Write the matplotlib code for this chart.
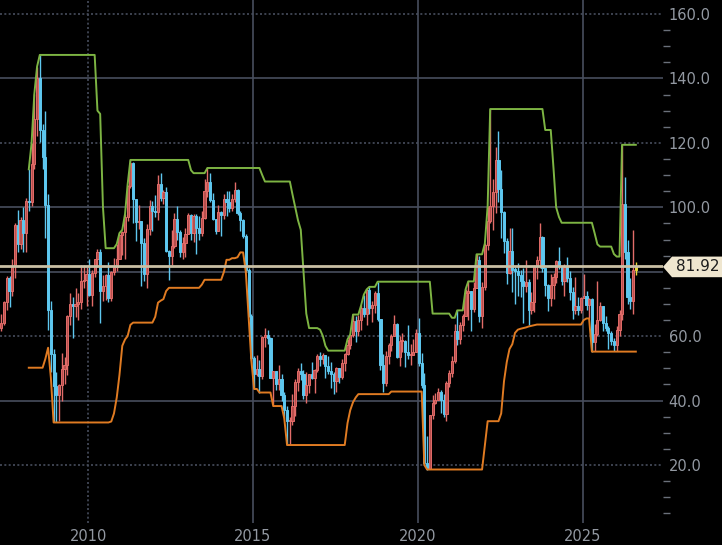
import numpy as np
import pandas as pd
import matplotlib
matplotlib.use("Agg")
import matplotlib.pyplot as plt
import matplotlib.dates as mdates
from matplotlib.patches import Polygon
from matplotlib.ticker import MultipleLocator, FuncFormatter
import matplotlib.transforms as mtransforms

# monthly candles, May 2007 .. Aug 2026
first_month = "2007-05-01"
first_open = 62.5
closes = [
    64.0, 70.7, 78.2, 74.0, 81.7, 94.5, 88.7, 96.0,                          # 2007 May-Dec
    92.0, 101.8, 101.6, 113.5, 127.4, 140.0, 124.1, 115.5, 100.6, 68.1, 54.4, 44.6,
    41.7, 44.8, 49.7, 51.1, 66.3, 69.9, 69.5, 70.0, 70.6, 77.0, 77.3, 79.4,
    72.9, 79.7, 83.8, 86.2, 74.0, 75.6, 78.9, 71.9, 80.0, 81.4, 84.1, 91.4,
    92.2, 97.0, 106.7, 113.9, 102.7, 95.4, 95.7, 88.8, 79.2, 93.2, 100.4, 98.8,
    98.5, 107.1, 103.0, 104.9, 86.5, 85.0, 88.1, 96.5, 92.2, 86.2, 88.9, 91.8,
    97.5, 92.0, 97.2, 93.5, 92.0, 96.6, 105.0, 107.7, 102.3, 96.4, 92.7, 98.4,
    97.5, 102.6, 101.6, 99.7, 102.7, 105.4, 98.2, 96.0, 91.2, 80.5, 66.2, 53.3,
    48.2, 49.8, 47.6, 59.6, 60.3, 59.5, 47.1, 49.2, 45.1, 46.6, 41.7, 37.0,
    33.6, 33.8, 38.3, 45.9, 49.1, 48.3, 41.6, 44.7, 48.2, 46.9, 49.4, 53.7,
    52.8, 54.0, 50.6, 49.3, 48.3, 46.0, 50.2, 47.2, 51.7, 54.4, 57.4, 60.4,
    64.7, 61.6, 64.9, 68.6, 67.0, 74.2, 68.8, 69.8, 73.3, 65.3, 50.9, 45.4,
    53.8, 57.2, 60.1, 63.9, 53.5, 58.5, 58.6, 55.1, 54.1, 54.2, 55.2, 61.1,
    51.6, 44.8, 20.5, 18.8, 35.5, 39.3, 40.3, 42.6, 40.2, 35.8, 45.3, 48.5,
    52.2, 61.5, 59.2, 63.6, 66.3, 73.5, 74.0, 68.5, 75.0, 83.6, 66.2, 75.2,
    88.2, 95.7, 100.3, 104.7, 114.7, 105.8, 98.6, 89.6, 79.5, 86.5, 80.6, 80.3,
    78.9, 77.1, 75.7, 76.8, 68.1, 70.6, 81.8, 83.6, 90.8, 81.0, 76.0, 71.7,
    75.9, 78.3, 83.2, 81.9, 77.0, 81.5, 77.9, 73.6, 68.2, 69.3, 68.0, 71.7,
    72.5, 69.8, 71.5, 58.2, 60.8, 65.1, 69.3, 64.0, 62.4, 61.0, 58.6, 57.4,
    62.0, 67.0, 101.0, 86.0, 72.0, 71.0, 80.5, 81.92,                        # 2026 Jan-Aug
]
highs = [
    67.0, 70.9, 78.8, 78.8, 84.1, 95.0, 99.3, 97.0,
    100.1, 103.0, 111.8, 119.9, 135.1, 143.7, 147.3, 126.0, 130.0, 104.0, 71.0, 56.0,
    49.0, 45.0, 54.7, 53.6, 66.5, 73.4, 72.0, 75.0, 73.4, 82.0, 82.0, 81.4,
    84.0, 80.5, 83.9, 87.2, 87.2, 79.1, 79.3, 82.9, 80.1, 84.4, 88.6, 92.0,
    92.6, 98.0, 106.9, 114.7, 114.0, 102.4, 100.6, 95.7, 90.5, 94.7, 102.4, 101.8,
    103.7, 110.0, 110.6, 105.5, 106.4, 86.8, 92.9, 98.3, 100.4, 93.0, 90.8, 93.5,
    98.2, 98.0, 97.8, 97.8, 97.3, 99.0, 108.9, 112.2, 110.7, 104.5, 96.5, 100.8,
    98.8, 104.0, 105.2, 105.0, 104.2, 107.7, 105.8, 98.7, 96.5, 91.8, 81.2, 67.0,
    53.9, 54.2, 52.5, 59.9, 62.6, 61.9, 59.7, 49.3, 49.2, 50.9, 48.4, 42.6,
    38.4, 34.8, 41.9, 46.8, 50.2, 51.7, 49.6, 48.8, 48.4, 51.9, 49.9, 54.5,
    55.2, 54.9, 54.3, 53.8, 52.0, 49.0, 50.4, 50.2, 52.9, 54.8, 59.0, 60.5,
    66.7, 66.3, 66.6, 69.6, 72.9, 74.5, 75.3, 70.9, 73.9, 76.9, 64.2, 54.6,
    55.4, 57.8, 60.7, 66.6, 64.2, 59.9, 60.9, 58.8, 63.4, 57.5, 59.0, 62.3,
    65.6, 54.7, 48.7, 29.0, 35.6, 41.6, 42.5, 43.8, 43.4, 41.9, 46.0, 49.4,
    53.9, 63.8, 68.0, 64.4, 67.0, 74.5, 77.0, 74.0, 76.7, 85.4, 85.0, 76.9,
    88.8, 100.5, 130.5, 108.7, 118.7, 123.7, 111.5, 99.0, 90.4, 93.6, 93.7, 81.5,
    82.7, 80.6, 81.0, 83.5, 77.7, 73.8, 82.0, 84.9, 95.0, 91.0, 80.1, 76.2,
    79.3, 79.6, 83.5, 87.7, 81.2, 82.4, 84.5, 80.2, 75.3, 78.5, 72.0, 72.2,
    79.4, 73.9, 71.9, 71.9, 63.9, 77.0, 70.5, 69.4, 66.4, 63.2, 61.6, 59.5,
    63.0, 68.0, 119.4, 109.5, 90.0, 78.0, 93.0, 83.0,
]
lows = [
    61.5, 63.5, 68.0, 69.2, 72.5, 78.0, 86.0, 87.0,
    86.1, 86.0, 98.7, 100.5, 112.0, 122.0, 120.4, 112.0, 90.5, 62.0, 49.0, 33.2,
    33.2, 33.6, 40.0, 45.0, 48.0, 63.5, 59.5, 66.0, 65.0, 68.5, 75.0, 69.5,
    72.4, 69.5, 78.3, 81.6, 64.2, 70.8, 71.2, 70.7, 70.8, 79.0, 80.2, 84.0,
    85.1, 84.1, 95.8, 106.0, 95.0, 89.6, 93.4, 75.7, 77.1, 75.0, 91.5, 92.5,
    97.0, 96.0, 102.0, 101.0, 86.0, 77.5, 82.0, 87.5, 89.8, 84.5, 84.0, 84.6,
    91.7, 90.0, 89.3, 85.6, 89.9, 91.1, 96.3, 103.2, 101.7, 96.0, 91.8, 92.6,
    91.2, 96.5, 97.4, 98.5, 98.7, 101.5, 97.6, 92.5, 90.4, 80.0, 66.0, 52.5,
    43.6, 47.7, 42.5, 46.7, 56.5, 57.6, 47.0, 38.3, 43.2, 43.2, 39.9, 34.5,
    26.2, 26.2, 32.5, 35.2, 43.0, 46.5, 40.6, 39.2, 42.5, 46.6, 42.2, 49.0,
    50.7, 51.2, 47.1, 48.2, 43.8, 42.0, 42.8, 45.6, 46.6, 49.1, 54.2, 56.1,
    59.8, 58.1, 59.9, 61.8, 65.8, 63.6, 67.0, 64.4, 67.3, 64.8, 49.4, 42.8,
    44.4, 51.2, 55.3, 60.1, 53.1, 50.6, 55.0, 50.5, 52.9, 51.0, 54.0, 55.0,
    50.6, 44.0, 20.0, 18.6, 18.8, 34.4, 39.0, 40.2, 36.1, 34.9, 33.6, 44.2,
    47.2, 51.6, 57.3, 57.6, 61.6, 66.1, 65.0, 61.7, 67.6, 75.0, 64.4, 62.4,
    74.3, 86.6, 95.0, 92.9, 98.2, 101.5, 90.6, 85.7, 76.3, 79.3, 73.6, 70.1,
    72.5, 72.3, 64.1, 73.8, 63.6, 66.8, 67.6, 77.6, 81.3, 80.0, 72.4, 67.7,
    69.3, 71.4, 76.6, 80.7, 76.0, 72.5, 76.9, 71.2, 65.3, 66.9, 66.6, 67.2,
    71.7, 68.0, 65.5, 55.2, 55.3, 60.0, 64.7, 61.5, 61.5, 56.0, 57.3, 55.3,
    55.5, 60.0, 65.0, 84.0, 70.0, 68.5, 67.0, 79.0,
]

# channel bands, Mar 2008 .. Aug 2026
band_start = 10
upper_band = [
    111.8, 119.9, 135.1, 143.7, 147.3, 147.3, 147.3, 147.3, 147.3, 147.3,
    147.3, 147.3, 147.3, 147.3, 147.3, 147.3, 147.3, 147.3, 147.3, 147.3, 147.3, 147.3,
    147.3, 147.3, 147.3, 130.0, 129.0, 100.0, 87.3, 87.3, 87.3, 87.3, 88.6, 92.0,
    93.0, 98.0, 107.0, 114.7, 114.7, 114.7, 114.7, 114.7, 114.7, 114.7, 114.7, 114.7,
    114.7, 114.7, 114.7, 114.7, 114.7, 114.7, 114.7, 114.7, 114.7, 114.7, 114.7, 114.7,
    114.7, 111.5, 110.6, 110.6, 110.6, 110.6, 110.6, 112.2, 112.2, 112.2, 112.2, 112.2,
    112.2, 112.2, 112.2, 112.2, 112.2, 112.2, 112.2, 112.2, 112.2, 112.2, 112.2, 112.2,
    112.2, 112.2, 112.2, 110.0, 108.0, 108.0, 108.0, 108.0, 108.0, 108.0, 108.0, 108.0,
    108.0, 108.0, 104.0, 100.0, 96.0, 93.0, 80.0, 67.0, 62.5, 62.5, 62.5, 62.5,
    62.0, 60.0, 57.0, 55.5, 55.5, 55.5, 55.5, 55.5, 55.5, 55.5, 59.0, 60.5,
    66.7, 66.7, 66.7, 69.6, 72.9, 74.5, 75.3, 75.3, 75.3, 76.9, 76.9, 76.9,
    76.9, 76.9, 76.9, 76.9, 76.9, 76.9, 76.9, 76.9, 76.9, 76.9, 76.9, 76.9,
    76.9, 76.9, 76.9, 76.9, 76.9, 67.0, 67.0, 67.0, 67.0, 67.0, 67.0, 67.0,
    65.7, 65.7, 68.0, 68.0, 68.0, 74.5, 77.0, 77.0, 77.0, 85.4, 85.4, 85.4,
    88.8, 100.5, 130.5, 130.5, 130.5, 130.5, 130.5, 130.5, 130.5, 130.5, 130.5, 130.5,
    130.5, 130.5, 130.5, 130.5, 130.5, 130.5, 130.5, 130.5, 130.5, 130.5, 124.0, 124.0,
    124.0, 112.0, 100.0, 97.0, 95.2, 95.2, 95.2, 95.2, 95.2, 95.2, 95.2, 95.2,
    95.2, 95.2, 95.2, 95.2, 92.0, 88.5, 87.8, 87.8, 87.8, 87.8, 87.8, 85.5,
    84.7, 84.7, 119.4, 119.4, 119.4, 119.4, 119.4, 119.4,
]
lower_band = [
    50.2, 50.2, 50.2, 50.2, 50.2, 50.2, 53.0, 56.4, 47.0, 33.2,
    33.2, 33.2, 33.2, 33.2, 33.2, 33.2, 33.2, 33.2, 33.2, 33.2, 33.2, 33.2,
    33.2, 33.2, 33.2, 33.2, 33.2, 33.2, 33.2, 33.2, 33.5, 36.0, 41.0, 48.0,
    57.0, 59.0, 60.0, 63.5, 64.2, 64.2, 64.2, 64.2, 64.2, 64.2, 64.2, 64.2,
    66.0, 70.4, 71.0, 71.5, 74.0, 75.0, 75.0, 75.0, 75.0, 75.0, 75.0, 75.0,
    75.0, 75.0, 75.0, 75.0, 75.0, 76.0, 77.5, 77.5, 77.5, 77.5, 77.5, 77.5,
    77.5, 80.0, 83.7, 83.7, 84.2, 84.2, 84.5, 86.0, 86.0, 80.0, 66.0, 52.5,
    43.6, 43.6, 42.5, 42.5, 42.5, 42.5, 42.5, 38.3, 38.3, 38.3, 38.3, 34.5,
    26.2, 26.2, 26.2, 26.2, 26.2, 26.2, 26.2, 26.2, 26.2, 26.2, 26.2, 26.2,
    26.2, 26.2, 26.2, 26.2, 26.2, 26.2, 26.2, 26.2, 26.2, 26.2, 33.0, 37.0,
    39.5, 41.0, 42.0, 42.0, 42.0, 42.0, 42.0, 42.0, 42.0, 42.0, 42.0, 42.0,
    42.0, 42.0, 42.8, 42.8, 42.8, 42.8, 42.8, 42.8, 42.8, 42.8, 42.8, 42.8,
    42.8, 42.8, 20.0, 18.6, 18.6, 18.6, 18.6, 18.6, 18.6, 18.6, 18.6, 18.6,
    18.6, 18.6, 18.6, 18.6, 18.6, 18.6, 18.6, 18.6, 18.6, 18.6, 18.6, 18.6,
    26.0, 33.6, 33.6, 33.6, 33.6, 33.6, 36.0, 46.0, 52.0, 56.0, 57.5, 61.0,
    62.0, 62.3, 62.5, 62.7, 63.0, 63.2, 63.4, 63.6, 63.6, 63.6, 63.6, 63.6,
    63.6, 63.6, 63.6, 63.6, 63.6, 63.6, 63.6, 63.6, 63.6, 63.6, 63.6, 63.6,
    65.0, 65.5, 65.5, 55.2, 55.2, 55.2, 55.2, 55.2, 55.2, 55.2, 55.2, 55.2,
    55.2, 55.2, 55.2, 55.2, 55.2, 55.2, 55.2, 55.2,
]

last_price = 81.92
x_ticks = ["2010", "2015", "2020", "2025"]
y_labels = [20, 40, 60, 80, 100, 120, 140, 160]
solid_h = [40, 80, 100, 140]
solid_v = ["2015", "2020", "2025"]

n = len(closes)
assert len(highs) == n and len(lows) == n
assert len(upper_band) == n - band_start and len(lower_band) == n - band_start

dates = pd.date_range(first_month, periods=n, freq="MS") + pd.Timedelta(days=14)
x = mdates.date2num(dates.to_pydatetime())
c = np.array(closes)
o = np.array([first_open] + closes[:-1])
h = np.array(highs)
lo = np.array(lows)

RED_F, RED_E = "#b84f4d", "#e26c69"
BLUE = "#5ec7ef"
YEL = "#e9d83a"
GRID = "#474e5d"
TXT = "#9399a2"

fig = plt.figure(figsize=(7.22, 5.45), dpi=100, facecolor="black")
ax = fig.add_axes([0.0, 0.0404, 663 / 722, 0.9596], facecolor="black")

# grid
for v in y_labels:
    ls = "-" if v in solid_h else (0, (1.2, 1.4))
    ax.axhline(v, color=GRID, lw=1.2, ls=ls, zorder=0.5)
for yr in x_ticks:
    xv = mdates.date2num(pd.Timestamp(yr + "-01-01").to_pydatetime())
    ls = "-" if yr in solid_v else (0, (1.2, 1.4))
    ax.axvline(xv, color=GRID, lw=1.2, ls=ls, zorder=0.5)

# candles
up = c >= o
face = np.where(up, RED_F, BLUE).astype(object)
edge = np.where(up, RED_E, BLUE).astype(object)
face[-1] = YEL
edge[-1] = YEL
ax.vlines(x, lo, h, colors=list(edge), lw=1.0, zorder=2)
body = np.maximum(np.abs(c - o), 0.4)
ax.bar(x, body, bottom=np.minimum(o, c), width=24, color=list(face),
       edgecolor=list(edge), linewidth=0.7, zorder=2.1)

# channel
xb = x[band_start:]
ax.plot(xb, upper_band, color="#7db443", lw=1.4, zorder=3)
ax.plot(xb, lower_band, color="#e07b22", lw=1.4, zorder=3)

# last price line + label
ax.axhline(last_price, color="#c9bfa4", lw=2.0, zorder=4)
tr = mtransforms.blended_transform_factory(ax.transAxes, ax.transData)
yc, hh = 81.5, 3.2
ax.add_patch(Polygon([(1.0, yc), (1.0136, yc + hh), (1.1, yc + hh),
                      (1.1, yc - hh), (1.0136, yc - hh)],
                     closed=True, transform=tr, facecolor="#efe6cf", edgecolor="none",
                     clip_on=False, zorder=10))
ax.text(1.052, yc, f"{last_price:.2f}", transform=tr, ha="center", va="center",
        fontsize=11, color="#1c1c1c", zorder=11, clip_on=False)

# axes
ax.set_xlim(mdates.date2num(pd.Timestamp("2007-05-01").to_pydatetime()),
            mdates.date2num(pd.Timestamp("2027-06-12").to_pydatetime()))
ax.set_ylim(2.0, 164.35)
for s in ax.spines.values():
    s.set_visible(False)
ax.yaxis.tick_right()
ax.yaxis.set_major_locator(MultipleLocator(20))
ax.yaxis.set_minor_locator(MultipleLocator(5))
# the 80.0 label sits under the last-price box
ax.yaxis.set_major_formatter(FuncFormatter(lambda v, p: "" if round(v) == 80 else f"{v:.1f}"))
ax.tick_params(axis="y", which="major", length=0, pad=4, labelsize=10.5, labelcolor=TXT)
ax.tick_params(axis="y", which="minor", length=5, width=1, color="#6a707a")
ax.xaxis.set_major_locator(mdates.YearLocator(5))
ax.xaxis.set_major_formatter(mdates.DateFormatter("%Y"))
ax.tick_params(axis="x", length=0, pad=4, labelsize=10.5, labelcolor=TXT)

fig.savefig("out.png", dpi=100, facecolor="black")
